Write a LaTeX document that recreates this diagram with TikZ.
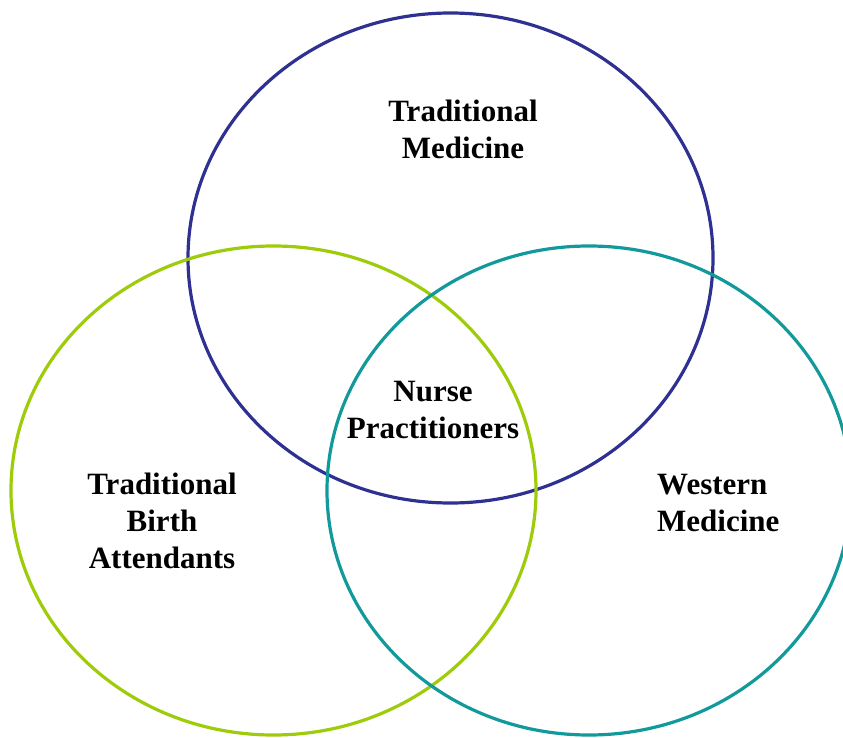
\documentclass[tikz,border=0pt]{standalone}
\usepackage{fontspec}
\setmainfont{Liberation Serif}
\usetikzlibrary{shapes.geometric}
\definecolor{navyc}{HTML}{2E3192}
\definecolor{greenc}{HTML}{9ECB0A}
\definecolor{tealc}{HTML}{12999B}
\begin{document}
\begin{tikzpicture}[x=1pt,y=-1pt,
  circ/.style={ellipse, draw, line width=3.2pt, inner sep=0pt},
  lbl/.style={align=center, font=\fontsize{31}{37}\selectfont\bfseries, inner sep=0pt}]
\useasboundingbox (0,0) rectangle (843,738);
\clip (0,0) rectangle (843,738);
\node[circ, draw=navyc, minimum width=525pt, minimum height=490pt] (tm) at (450.5,258) {};
\node[circ, draw=greenc, minimum width=525pt, minimum height=489pt] (tba) at (273.5,490.5) {};
\node[circ, draw=tealc, minimum width=524pt, minimum height=489pt] (wm) at (589,490.5) {};
\node[lbl] (tmt) at (463,129.5) {Traditional\\Medicine};
\node[lbl] (np) at (433,409.5) {Nurse\\Practitioners};
\node[lbl] (tbat) at (162,520.5) {Traditional\\Birth\\Attendants};
\node[lbl, align=left, anchor=west] (wmt) at (657,503) {Western\\Medicine};
\end{tikzpicture}
\end{document}
